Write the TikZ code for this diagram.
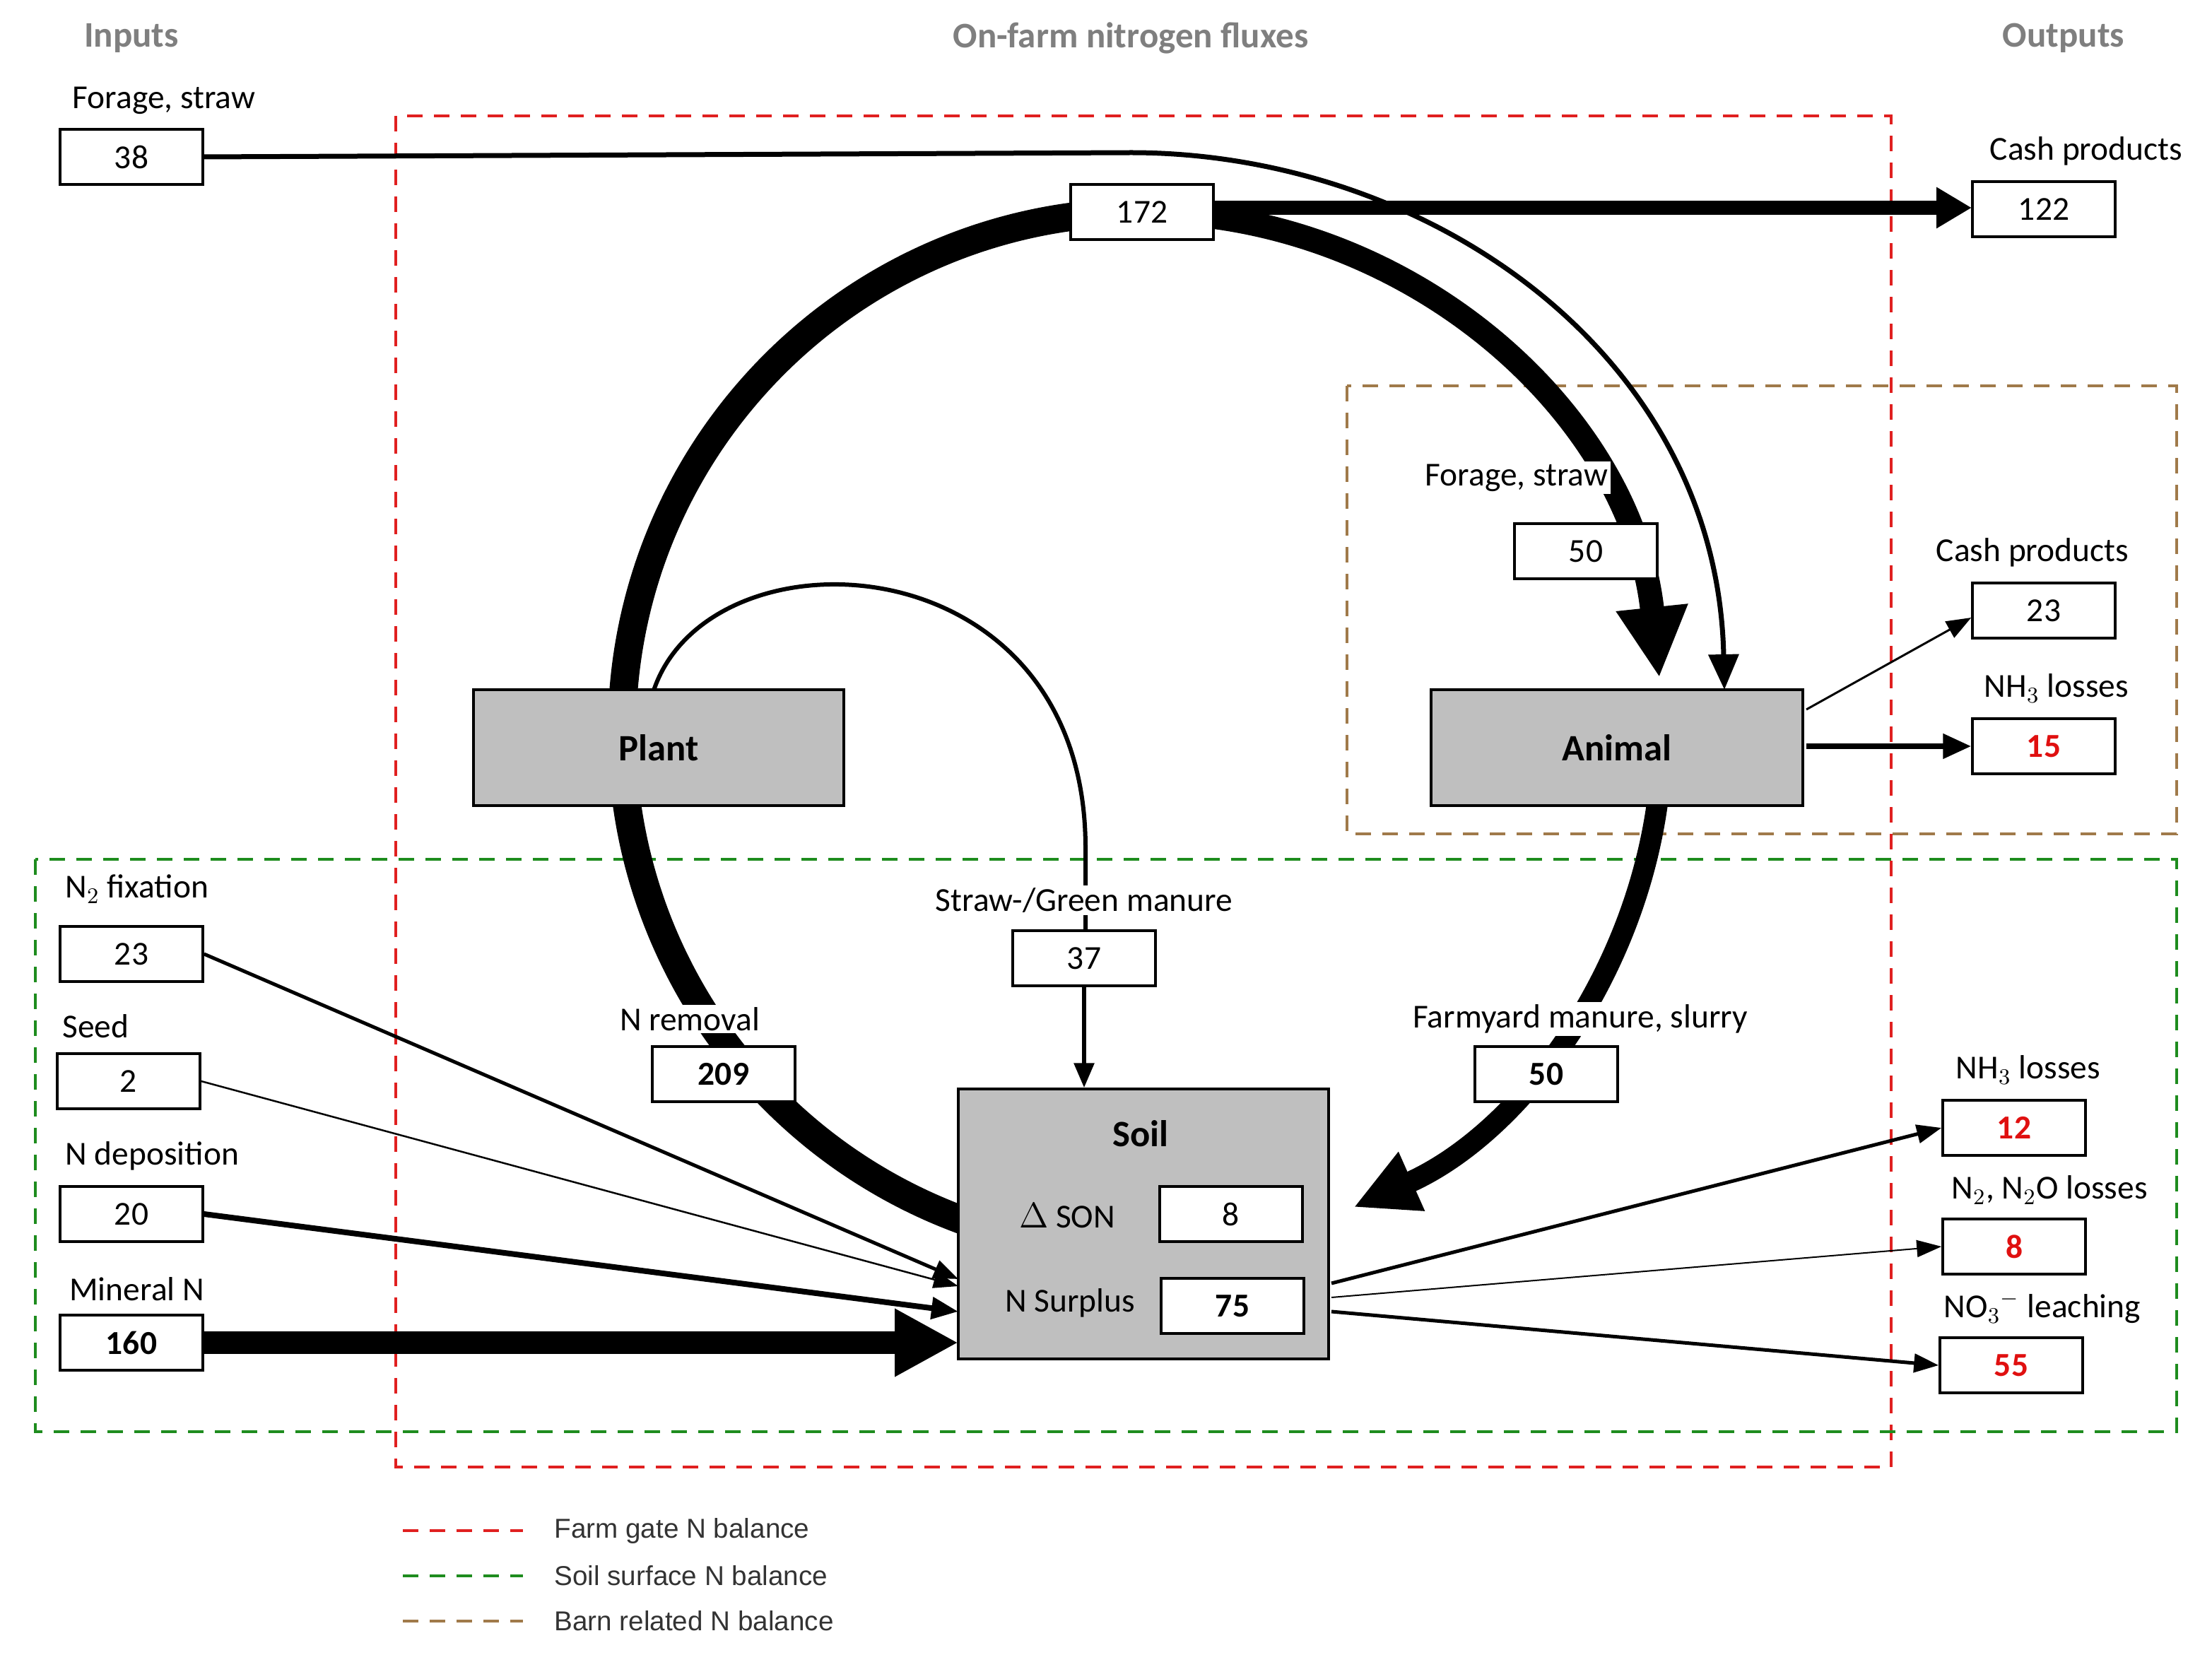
\documentclass[tikz,border=0pt]{standalone}
\usepackage{fontspec}
\setmainfont{Carlito}
\newfontfamily\legfont{Liberation Sans}
\usetikzlibrary{arrows.meta,calc}
\definecolor{tgray}{HTML}{7F7F7F}
\definecolor{bgray}{HTML}{BFBFBF}
\definecolor{fgred}{HTML}{E02020}
\definecolor{fggreen}{HTML}{1E8C1E}
\definecolor{fgbrown}{HTML}{A07A4A}
\definecolor{nred}{HTML}{E01010}
\begin{document}
\begin{tikzpicture}[x=0.2mm,y=-0.2mm,font=\fontsize{13.5}{15}\selectfont,
 box/.style={draw,line width=0.35mm,fill=white,minimum width=20.2mm,minimum height=7.8mm,inner sep=0pt},
 gbox/.style={draw,line width=0.35mm,fill=bgray,inner sep=0pt},
 rb/.style={text=nred,font=\fontsize{13.5}{15}\selectfont\bfseries},
 bb/.style={font=\fontsize{13.5}{15}\selectfont\bfseries},
 wl/.style={fill=white,inner sep=1pt},
 ttl/.style={text=tgray,font=\fontsize{14.5}{17}\selectfont\bfseries},
 dsh/.style={dash pattern=on 2.2mm off 1.6mm,line width=0.45mm},
 flow/.style={line width=#1}]
\useasboundingbox (0,0) rectangle (1565,1171);
% titles
\node[ttl] (tin) at (93,27) {Inputs};
\node[ttl] (tmid) at (800,27) {On-farm nitrogen fluxes};
\node[ttl] (tout) at (1460,27) {Outputs};
% balance frames
\draw[dsh,fgred] (280,82) rectangle (1338,1038);
\draw[dsh,fgbrown] (953,273) rectangle (1540,590);
\draw[dsh,fggreen] (25,608) rectangle (1540,1013);
% big circle flows
\coordinate (C) at (808,518);
\draw[flow=4mm] (808,150) arc[start angle=270,end angle=110,radius=368];
\draw[flow=3.4mm,-{Triangle[length=10mm,width=9.5mm]}] (808,150) arc[start angle=270,end angle=354,radius=368];
\draw[flow=3mm,-{Triangle[length=9mm,width=8.5mm]}] ($(C)+(8:368)$) arc[start angle=8,end angle=66,radius=368];
% forage straw input
\node (l38) at (116,71) {Forage, straw};
\node[box] (i38) at (93,111) {38};
\draw[line width=0.7mm,-{Triangle[length=5mm,width=4.2mm]}] (i38.east) -- (800,108) .. controls (1010,108) and (1215,250) .. (1220,488);
% plant inner loop
\draw[line width=0.6mm] (462,490) .. controls (500,370) and (768,380) .. (768,600) -- (768,658);
% boxes
\node[gbox,minimum width=52.4mm,minimum height=16.4mm,font=\fontsize{15}{17}\selectfont\bfseries] (plant) at (466,529) {Plant};
\node[gbox,minimum width=52.6mm,minimum height=16.4mm,font=\fontsize{15}{17}\selectfont\bfseries] (animal) at (1144,529) {Animal};
\node[gbox,minimum width=52.4mm,minimum height=38.2mm] (soil) at (809,866) {};
\node[font=\fontsize{15}{17}\selectfont\bfseries] (soilt) at (807,802) {Soil};
\node (dson) at (755,860) {$\Delta$ SON};
\node (nsur) at (757,922) {N Surplus};
\node[box] (b8) at (871,859) {8};
\node[box,bb] (b75) at (872,924) {75};
% central boxes
\node[box] (b172) at (808,150) {172};
\draw[line width=2mm,-{Triangle[length=5mm,width=5.5mm]}] (b172.east |- 0,147) -- (1395,147);
\node[box] (b122) at (1446,148) {122};
\node (l122) at (1476,107) {Cash products};
\node[wl] (lfs) at (1073,338) {Forage, straw};
\node[box] (b50a) at (1122,390) {50};
\node[wl] (lsg) at (767,637) {Straw-/Green manure};
\node[box] (b37) at (767,678) {37};
\draw[line width=0.6mm,-{Triangle[length=3.5mm,width=2.8mm]}] (b37.south) -- (soil.north -| b37.south);
\node[wl] (lnr) at (488,721) {N removal};
\node[box,bb] (b209) at (512,760) {209};
\node[wl] (lfm) at (1118,721) {Farmyard manure, slurry};
\node[box,bb] (b50b) at (1094,760) {50};
% animal outputs
\node[box] (b23o) at (1446,432) {23};
\node (l23o) at (1438,391) {Cash products};
\node[box,rb] (b15) at (1446,528) {15};
\node (l15) at (1455,487) {NH$_3$ losses};
\draw[line width=0.3mm,-{Triangle[length=3.5mm,width=2.6mm]}] (1278,502) -- (b23o.west |- 0,437);
\draw[line width=0.8mm,-{Triangle[length=4mm,width=3.4mm]}] (1278,528) -- (b15.west);
% left inputs
\node[anchor=west] (l23) at (40,629) {N$_2$ fixation};
\node[box] (i23) at (93,675) {23};
\node[anchor=west] (l2) at (38,726) {Seed};
\node[box] (i2) at (91,765) {2};
\node[anchor=west] (l20) at (40,818) {N deposition};
\node[box] (i20) at (93,859) {20};
\node[anchor=west] (l160) at (43,912) {Mineral N};
\node[box,bb] (i160) at (93,950) {160};
\draw[line width=0.5mm,-{Triangle[length=3.5mm,width=2.6mm]}] (i23.east) -- (678,905);
\draw[line width=0.25mm,-{Triangle[length=3.5mm,width=2.4mm]}] (i2.east) -- (678,910);
\draw[line width=0.8mm,-{Triangle[length=3.8mm,width=3mm]}] (i20.east) -- (678,928);
\draw[line width=3.2mm,-{Triangle[length=9mm,width=9mm]}] (i160.east) -- (678,950);
% soil outputs
\node (l12) at (1435,757) {NH$_3$ losses};
\node[box,rb] (o12) at (1425,798) {12};
\node (l8) at (1450,842) {N$_2$, N$_2$O losses};
\node[box,rb] (o8) at (1425,882) {8};
\node (l55) at (1445,925) {NO$_3$$^{-}$ leaching};
\node[box,rb] (o55) at (1423,966) {55};
\draw[line width=0.5mm,-{Triangle[length=3.5mm,width=2.6mm]}] (942,908) -- (o12.west);
\draw[line width=0.2mm,-{Triangle[length=3.5mm,width=2.4mm]}] (942,918) -- (o8.west);
\draw[line width=0.5mm,-{Triangle[length=3.5mm,width=2.6mm]}] (942,928) -- (o55.west);
% legend
\draw[dsh,fgred] (285,1083) coordinate (lr1) -- (370,1083) coordinate (lr2);
\node[anchor=west,font=\legfont\fontsize{11}{13}\selectfont,text=black!80] (lg1) at (386,1083) {Farm gate N balance};
\draw[dsh,fggreen] (285,1115) coordinate (lg1a) -- (370,1115) coordinate (lg1b);
\node[anchor=west,font=\legfont\fontsize{11}{13}\selectfont,text=black!80] (lg2) at (386,1115) {Soil surface N balance};
\draw[dsh,fgbrown] (285,1147) coordinate (lb1) -- (370,1147) coordinate (lb2);
\node[anchor=west,font=\legfont\fontsize{11}{13}\selectfont,text=black!80] (lg3) at (386,1147) {Barn related N balance};
\end{tikzpicture}
\end{document}
